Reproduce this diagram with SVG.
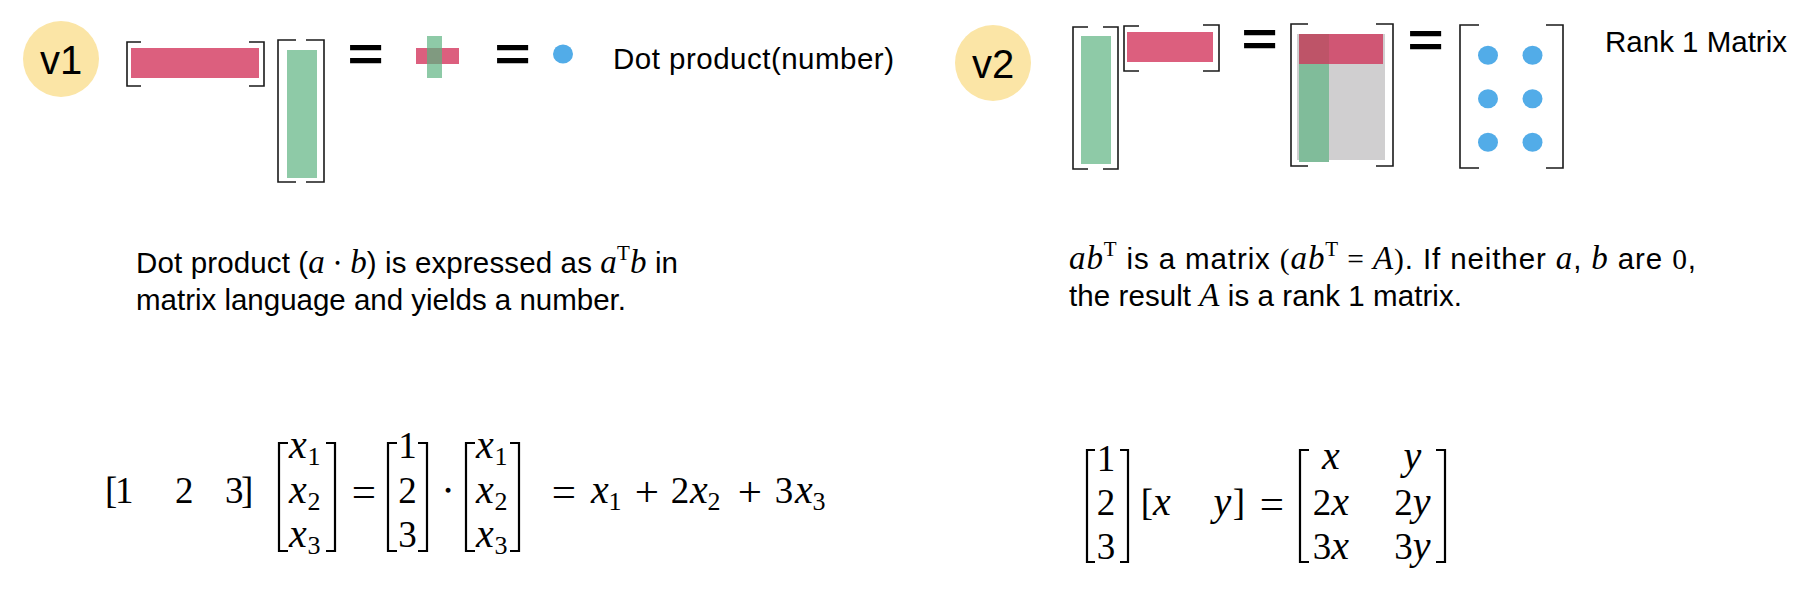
<svg xmlns="http://www.w3.org/2000/svg" width="1814" height="602" viewBox="0 0 1814 602">
<style>
.bg{fill:#ffffff}
.badge{fill:#FBE5A6}
.badge-t{font-family:"Liberation Sans",Arial,sans-serif;font-size:40px;fill:#000;text-anchor:middle}
.red{fill:#DC5F7E}
.green{fill:#8ECAA7}
.grey{fill:#D0CFD0}
.blue{fill:#52ACE8}
.br{fill:none;stroke:#1a1a1a;stroke-width:1.6}
.mbr{fill:none;stroke:#000;stroke-width:2.2}
.eqs{font-family:"Liberation Sans",Arial,sans-serif;font-size:62px;font-weight:bold;fill:#000;text-anchor:middle}
.sans{font-family:"Liberation Sans",Arial,sans-serif;font-size:29.5px;fill:#000}
.mi{font-family:"Liberation Serif","DejaVu Serif",serif;font-style:italic;font-size:33px}
.mr{font-family:"Liberation Serif","DejaVu Serif",serif;font-style:normal}
.m1{font-family:"Liberation Serif","DejaVu Serif",serif;font-size:37px;fill:#000;text-anchor:middle}
.m1s{font-family:"Liberation Serif","DejaVu Serif",serif;font-size:37px;fill:#000}
.it{font-style:italic;font-size:40px}
.op{font-size:43px}
.sub{font-size:26px}
</style>
<rect class="bg" x="0" y="0" width="1814" height="602"/>

<!-- ===== v1 ===== -->
<g id="v1-badge">
  <circle class="badge" cx="61" cy="59" r="38"/>
  <text class="badge-t" x="61" y="74">v1</text>
</g>
<g id="v1-row-vector">
  <rect class="red" x="131" y="48" width="128" height="30"/>
  <path class="br" d="M141,42 L127,42 L127,86 L141,86"/>
  <path class="br" d="M249,42 L264,42 L264,86 L249,86"/>
</g>
<g id="v1-col-vector">
  <rect class="green" x="287" y="50" width="30" height="128"/>
  <path class="br" d="M296,40 L278,40 L278,182 L296,182"/>
  <path class="br" d="M306,40 L324,40 L324,182 L306,182"/>
</g>
<g id="v1-equals-1"><text class="eqs" transform="translate(365.5,54) scale(1,0.78)" x="0" y="21.4">=</text></g>
<g id="v1-product">
  <rect class="red" x="416" y="48" width="43" height="16"/>
  <rect class="green" x="427" y="36" width="15" height="42"/>
  <rect x="427" y="48" width="15" height="16" fill="#809A80"/>
</g>
<g id="v1-equals-2"><text class="eqs" transform="translate(512.5,54) scale(1,0.78)" x="0" y="21.4">=</text></g>
<g id="v1-number"><ellipse class="blue" cx="563" cy="54" rx="10" ry="9.5"/></g>
<g id="v1-label"><text class="sans" x="613" y="69" textLength="281">Dot product(number)</text></g>

<!-- ===== v2 ===== -->
<g id="v2-badge">
  <circle class="badge" cx="993" cy="63" r="38"/>
  <text class="badge-t" x="993" y="78">v2</text>
</g>
<g id="v2-col-vector">
  <rect class="green" x="1081" y="36" width="30" height="128"/>
  <path class="br" d="M1088,27 L1073,27 L1073,169 L1088,169"/>
  <path class="br" d="M1103,27 L1118,27 L1118,169 L1103,169"/>
</g>
<g id="v2-row-vector">
  <rect class="red" x="1127" y="32" width="86" height="30"/>
  <path class="br" d="M1139,26 L1124,26 L1124,71 L1139,71"/>
  <path class="br" d="M1203,25 L1219,25 L1219,71 L1203,71"/>
</g>
<g id="v2-equals-1"><text class="eqs" transform="translate(1259.5,39.7) scale(1,0.78)" x="0" y="21.4">=</text></g>
<g id="v2-outer-product">
  <rect class="grey" x="1297" y="34" width="88" height="126"/>
  <rect x="1299" y="34" width="30" height="128" fill="#80BC9A"/>
  <rect x="1299" y="34" width="84" height="30" fill="#D05674"/>
  <rect x="1299" y="34" width="30" height="30" fill="#BE5468"/>
  <path class="br" d="M1308,24 L1291,24 L1291,166 L1308,166"/>
  <path class="br" d="M1376,24 L1393,24 L1393,166 L1376,166"/>
</g>
<g id="v2-equals-2"><text class="eqs" transform="translate(1425.5,40) scale(1,0.78)" x="0" y="21.4">=</text></g>
<g id="v2-rank1-matrix">
  <path class="br" d="M1479,25 L1460,25 L1460,168 L1479,168"/>
  <path class="br" d="M1546,25 L1563,25 L1563,168 L1546,168"/>
  <ellipse class="blue" cx="1488" cy="55.3" rx="10" ry="9.5"/>
  <ellipse class="blue" cx="1532.5" cy="55.3" rx="10" ry="9.5"/>
  <ellipse class="blue" cx="1488" cy="98.7" rx="10" ry="9.5"/>
  <ellipse class="blue" cx="1532.5" cy="98.7" rx="10" ry="9.5"/>
  <ellipse class="blue" cx="1488" cy="142.3" rx="10" ry="9.5"/>
  <ellipse class="blue" cx="1532.5" cy="142.3" rx="10" ry="9.5"/>
</g>
<g id="v2-label"><text class="sans" x="1605" y="52" textLength="182">Rank 1 Matrix</text></g>

<!-- ===== captions ===== -->
<g id="v1-caption">
  <text class="sans" x="136" y="273" textLength="542">Dot product (<tspan class="mi">a</tspan><tspan class="mr"> ⋅ </tspan><tspan class="mi">b</tspan>) is expressed as <tspan class="mi">a</tspan><tspan class="mr" font-size="21" dy="-13">T</tspan><tspan class="mi" dy="13">b</tspan> in</text>
  <text class="sans" x="136" y="310" textLength="490">matrix language and yields a number.</text>
</g>
<g id="v2-caption">
  <text class="sans" x="1069" y="269" textLength="627"><tspan class="mi">ab</tspan><tspan class="mr" font-size="21" dy="-13">T</tspan><tspan dy="13"> is a matrix </tspan><tspan class="mr">(</tspan><tspan class="mi">ab</tspan><tspan class="mr" font-size="21" dy="-13">T</tspan><tspan class="mr" dy="13"> = </tspan><tspan class="mi">A</tspan><tspan class="mr">)</tspan>. If neither <tspan class="mi">a</tspan>, <tspan class="mi">b</tspan> are <tspan class="mr">0</tspan>,</text>
  <text class="sans" x="1069" y="306" textLength="393">the result <tspan class="mi">A</tspan> is a rank 1 matrix.</text>
</g>

<!-- ===== equation 1 ===== -->
<g id="equation-1">
  <text class="m1s" y="503"><tspan x="105">[</tspan><tspan x="115">1</tspan><tspan x="175">2</tspan><tspan x="225">3</tspan><tspan x="241">]</tspan></text>
  <path class="mbr" d="M288,443 L279,443 L279,551 L288,551"/>
  <path class="mbr" d="M326,443 L335,443 L335,551 L326,551"/>
  <text class="m1 it" x="298" y="458">x</text><text class="m1 sub" x="314" y="465">1</text>
  <text class="m1 it" x="298" y="503">x</text><text class="m1 sub" x="314" y="510">2</text>
  <text class="m1 it" x="298" y="547">x</text><text class="m1 sub" x="314" y="554">3</text>
  <text class="m1 op" x="364" y="506">=</text>
  <path class="mbr" d="M397,443 L388,443 L388,551 L397,551"/>
  <path class="mbr" d="M418,443 L427,443 L427,551 L418,551"/>
  <text class="m1" x="407.5" y="458">1</text>
  <text class="m1" x="407.5" y="503">2</text>
  <text class="m1" x="407.5" y="547">3</text>
  <text class="m1" x="448" y="503">⋅</text>
  <path class="mbr" d="M475,443 L466,443 L466,551 L475,551"/>
  <path class="mbr" d="M510,443 L519,443 L519,551 L510,551"/>
  <text class="m1 it" x="485" y="458">x</text><text class="m1 sub" x="501" y="465">1</text>
  <text class="m1 it" x="485" y="503">x</text><text class="m1 sub" x="501" y="510">2</text>
  <text class="m1 it" x="485" y="547">x</text><text class="m1 sub" x="501" y="554">3</text>
  <text class="m1 op" x="564" y="506">=</text>
  <text class="m1 it" x="600" y="503">x</text><text class="m1 sub" x="615" y="510">1</text>
  <text class="m1 op" x="647" y="506">+</text>
  <text class="m1" x="680" y="503">2</text><text class="m1 it" x="699" y="503">x</text><text class="m1 sub" x="714" y="510">2</text>
  <text class="m1 op" x="750" y="506">+</text>
  <text class="m1" x="784" y="503">3</text><text class="m1 it" x="804" y="503">x</text><text class="m1 sub" x="819" y="510">3</text>
</g>

<!-- ===== equation 2 ===== -->
<g id="equation-2">
  <path class="mbr" d="M1095,450 L1087,450 L1087,562 L1095,562"/>
  <path class="mbr" d="M1120,450 L1128,450 L1128,562 L1120,562"/>
  <text class="m1" x="1106" y="471">1</text>
  <text class="m1" x="1106" y="515">2</text>
  <text class="m1" x="1106" y="559">3</text>
  <text class="m1" x="1147" y="515">[</text>
  <text class="m1 it" x="1162" y="515">x</text>
  <text class="m1 it" x="1222.5" y="515">y</text>
  <text class="m1" x="1239" y="515">]</text>
  <text class="m1 op" x="1272" y="518">=</text>
  <path class="mbr" d="M1309,450 L1300,450 L1300,562 L1309,562"/>
  <path class="mbr" d="M1436,450 L1445,450 L1445,562 L1436,562"/>
  <text class="m1 it" x="1331" y="469">x</text>
  <text class="m1 it" x="1412.5" y="469">y</text>
  <text class="m1" x="1331" y="515">2<tspan class="it">x</tspan></text>
  <text class="m1" x="1412.5" y="515">2<tspan class="it">y</tspan></text>
  <text class="m1" x="1331" y="559">3<tspan class="it">x</tspan></text>
  <text class="m1" x="1412.5" y="559">3<tspan class="it">y</tspan></text>
</g>

<g id="connectors"></g>
</svg>
